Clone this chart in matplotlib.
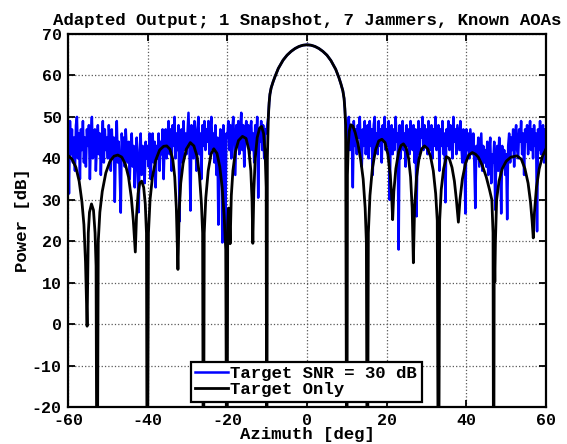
import numpy as np
import matplotlib
matplotlib.use("Agg")
import matplotlib.pyplot as plt

plt.rcParams['font.family'] = ['Liberation Mono', 'DejaVu Sans Mono']
plt.rcParams['font.weight'] = 'bold'
plt.rcParams['axes.unicode_minus'] = False

# ---------------- data ----------------
title = "Adapted Output; 1 Snapshot, 7 Jammers, Known AOAs"
xlabel = "Azimuth [deg]"
ylabel = "Power [dB]"
labels = ["Target SNR = 30 dB", "Target Only"]
xticks = [-60, -40, -20, 0, 20, 40, 60]
yticks = [-20, -10, 0, 10, 20, 30, 40, 50, 60, 70]

# main lobe (shared by both curves)
main_az = [-9.7, -9.5, -9.3, -9.0, -8.5, -8.0, -7.2, -6.0, -5.0, -4.0, -3.0, -2.0, -1.0, 0.0,
           1.0, 2.0, 3.0, 4.0, 5.0, 6.0, 7.2, 8.0, 8.5, 9.0, 9.3, 9.5, 9.7]
main_db = [50.1, 53.5, 55.5, 57.0, 58.5, 59.8, 61.7, 63.7, 64.9, 65.8, 66.5, 67.0, 67.3, 67.4,
           67.3, 67.0, 66.5, 65.8, 64.9, 63.6, 61.5, 59.5, 58.0, 56.3, 54.5, 52.0, 48.0]

# target-only pattern, sidelobes left of main lobe
black_left_az = [-60.0, -59.0, -58.0, -57.2, -56.5, -56.0, -55.6, -55.2,
                 -54.9, -54.6, -54.1, -53.6, -53.2, -52.95, -52.7,
                 -52.4, -52.0, -51.4, -50.5, -49.5, -48.5, -47.5, -46.5, -45.6, -44.8, -44.1, -43.6, -43.1,
                 -42.8, -42.4, -42.0, -41.5, -41.0, -40.6, -40.3, -40.1,
                 -39.8, -39.4, -38.8, -38.0, -37.0, -36.0, -35.2, -34.4, -33.7, -33.2, -32.8, -32.4,
                 -32.1, -31.7, -31.1, -30.3, -29.3, -28.4, -27.6, -27.0, -26.5, -26.2, -26.0,
                 -25.8, -25.4, -24.8, -24.1, -23.4, -22.6, -21.9, -21.3, -20.8, -20.4, -20.1,
                 -19.9, -19.7, -19.5, -19.3,
                 -19.0, -18.6, -18.0, -17.2, -16.2, -15.3, -14.6, -14.1, -13.8, -13.6,
                 -13.35, -13.0, -12.5, -11.9, -11.4, -10.9, -10.5, -10.25, -10.1, -9.95]
black_left_db = [40.7, 39.8, 37.8, 34.5, 29.5, 24.0, 15.0, -0.5,
                 22.0, 27.0, 29.0, 27.5, 22.0, 14.0, -60.0,
                 20.0, 27.0, 32.0, 36.5, 39.2, 40.5, 40.8, 40.3, 38.6, 35.5, 30.5, 25.0, 17.4,
                 26.0, 31.5, 34.0, 34.5, 33.0, 29.0, 22.0, -60.0,
                 22.0, 30.0, 35.5, 39.5, 42.0, 42.9, 43.0, 42.2, 39.8, 35.5, 28.0, 13.2,
                 27.0, 34.0, 38.8, 42.2, 43.8, 43.0, 40.5, 36.0, 29.0, 22.0, -60.0,
                 22.0, 30.5, 37.0, 41.0, 42.3, 41.2, 38.0, 33.0, 26.0, 18.0, -60.0,
                 24.0, 28.0, 26.0, 19.4,
                 31.0, 37.0, 41.5, 44.3, 45.3, 44.8, 42.0, 37.0, 30.0, 19.5,
                 32.0, 40.0, 45.0, 47.3, 47.7, 46.0, 41.0, 33.0, -60.0, 40.0]

# target-only pattern, sidelobes right of main lobe
black_right_az = [10.0, 10.15, 10.35, 10.6, 11.0, 11.5, 12.1, 12.8, 13.5, 14.1, 14.6, 14.9, 15.15,
                  15.4, 15.8, 16.4, 17.2, 18.0, 18.8, 19.6, 20.3, 20.9, 21.25, 21.5,
                  21.8, 22.3, 23.0, 23.6, 24.2, 24.9, 25.5, 26.0, 26.4, 26.7,
                  27.0, 27.5, 28.1, 28.8, 29.5, 30.3, 31.0, 31.7, 32.3, 32.7, 33.0,
                  33.3, 33.7, 34.3, 35.0, 35.7, 36.4, 37.0, 37.5, 38.0,
                  38.4, 39.0, 39.8, 40.6, 41.5, 42.3, 43.0, 44.0, 45.0, 45.8, 46.4, 46.7, 46.85,
                  47.0, 47.15, 47.3, 47.6, 48.2, 49.0, 50.0, 51.2, 52.7, 53.8, 54.7, 55.5, 56.1, 56.5, 56.8,
                  57.1, 57.6, 58.3, 59.1, 60.0]
black_right_db = [-60.0, 36.0, 43.0, 46.5, 48.1, 47.8, 46.2, 43.5, 39.5, 35.0, 28.0, 20.0, -60.0,
                  22.0, 31.0, 37.5, 42.0, 44.2, 44.6, 43.8, 41.0, 36.0, 31.0, 25.2,
                  32.0, 37.5, 41.5, 43.1, 43.5, 42.5, 40.0, 35.5, 28.0, 14.8,
                  28.0, 35.5, 39.8, 42.3, 43.0, 42.3, 40.5, 37.0, 31.5, 25.0, -60.0,
                  25.0, 32.5, 37.5, 40.4, 40.0, 37.8, 34.5, 30.0, 24.6,
                  30.0, 35.0, 38.8, 40.8, 41.4, 41.0, 40.3, 38.3, 35.5, 32.5, 30.0, 22.0, -60.0,
                  19.0, 10.2, 20.0, 30.0, 34.5, 37.5, 39.3, 40.3, 40.6, 39.8, 37.5, 34.0, 29.5, 25.0, 20.8,
                  27.0, 33.0, 37.5, 40.5, 42.3]

# target + noise, -60 .. -10.25 deg (0.25 deg steps)
blue_left_db = [
    46, 31.5, 49, 41, 47, 39, 45, 37, 48, 50, 40, 46, 35, 47, 42, 49, 39, 45, 38, 47,
    43, 48, 35, 45, 50, 40, 44, 47, 37, 43, 48, 41, 46, 36, 44, 49, 39, 47, 42, 45,
    40, 48, 44, 37, 47, 41, 45, 29.5, 43, 49, 39, 44, 36, 26.9, 46, 41, 45, 38, 47, 42,
    39, 44, 35, 42, 46, 38, 43, 33, 41, 45, 37, 27, 42, 46, 36, 43, 39, 34, 44, 40,
    43, 38, 46, 35, 42, 46, 39, 44, 33, 43, 40, 46, 37, 44, 41, 47, 35, 43, 47, 40,
    45, 49, 41, 47, 37, 48, 43, 50, 40, 46, 42, 48, 24.8, 44, 47, 39, 49, 42, 46, 41,
    46, 51, 42, 27.4, 48, 44, 40, 49, 45, 37, 47, 50, 41, 46, 35, 48, 43, 49, 42, 47,
    44, 49, 41, 47, 50, 42, 46, 39, 48, 36, 45, 24, 41, 47, 43, 19.7, 48, 42, 22, 46,
    45, 49, 42, 48, 40, 47, 50, 43, 36, 48, 44, 49, 41, 47, 51, 42, 48, 38, 46, 49,
    44, 48, 41, 47, 49, 42, 46, 39, 48, 43, 50, 30.5, 47, 44, 49, 42, 48, 40, 47, 46]

# target + noise, 10 .. 60 deg (0.25 deg steps)
blue_right_db = [
    41, 47, 50, 42, 48, 45, 33, 49, 43, 47, 41, 48, 45, 50, 42, 38, 47, 43, 49, 41,
    45, 48, 40, 49, 43, 47, 36, 48, 50, 42, 46, 41, 49, 43, 47, 39, 48, 44, 50, 42,
    47, 43, 49, 30, 45, 48, 41, 47, 42, 50, 44, 46, 18, 48, 40, 47, 49, 42, 46, 38,
    48, 43, 47, 41, 49, 45, 42, 48, 39, 47, 26, 44, 49, 41, 47, 45, 50, 42, 48, 43,
    47, 41, 49, 45, 42, 48, 40, 47, 43, 50, 42, 46, 48, 37, 47, 43, 49, 41, 46, 29.4,
    47, 43, 49, 42, 48, 45, 40, 50, 44, 47, 41, 48, 45, 42, 49, 43, 39, 47, 44, 26.7,
    47, 42, 46, 40, 47, 44, 41, 46, 39, 28, 43, 40, 45, 38, 42, 46, 37, 43, 39, 42,
    38, 44, 36, 42, 45, 34, 41, 39, 44, 27.6, 40, 43, 37, 45, 41, 26.7, 43, 38, 42, 36,
    41, 25.3, 43, 46, 39, 45, 42, 47, 38, 46, 48, 42, 40, 47, 44, 49, 41, 46, 36, 47,
    44, 48, 41, 46, 49, 42, 47, 40, 48, 43, 46, 22.4, 47, 42, 49, 41, 46, 48, 39, 47,
    44]

# ---------------- assemble ----------------
blue_left_az = -60 + 0.25 * np.arange(len(blue_left_db))
blue_right_az = 10 + 0.25 * np.arange(len(blue_right_db))

blue_az = np.concatenate([blue_left_az, main_az, blue_right_az])
blue_db = np.concatenate([blue_left_db, main_db, blue_right_db])
black_az = np.concatenate([black_left_az, main_az, black_right_az])
black_db = np.concatenate([black_left_db, main_db, black_right_db])

# ---------------- plot ----------------
fig = plt.figure(figsize=(5.67, 4.44), dpi=100)
ax = fig.add_axes([0.1199, 0.0833, 0.8431, 0.8401])

ax.plot(blue_az, blue_db, color='#0000ff', lw=1.8, label=labels[0])
ax.plot(black_az, black_db, color='black', lw=2.0, label=labels[1])

ax.set_xlim(-60, 60)
ax.set_ylim(-20, 70)
ax.set_xticks(xticks)
ax.set_yticks(yticks)
ax.tick_params(direction='in', length=5, width=1.3, top=True, right=True,
               labelsize=12)
ax.tick_params(axis='x', pad=4.5)
ax.tick_params(axis='y', pad=4.5)
for s in ax.spines.values():
    s.set_linewidth(1.6)
ax.grid(True, linestyle=':', color='0.35', lw=0.9)

ax.set_title(title, fontsize=12.5, fontweight='bold', pad=7)
ax.set_xlabel(xlabel, fontsize=12.5, fontweight='bold', labelpad=-1.0)
ax.set_ylabel(ylabel, fontsize=12.5, fontweight='bold', labelpad=1)

leg = ax.legend(loc='lower center', bbox_to_anchor=(0.498, 0.014),
                borderaxespad=0, fontsize=12.5, handlelength=1.9,
                handletextpad=0.15, borderpad=0.25, labelspacing=0.05,
                fancybox=False, framealpha=1, edgecolor='black')
leg.get_frame().set_linewidth(1.6)

fig.savefig("out.png", dpi=100)
